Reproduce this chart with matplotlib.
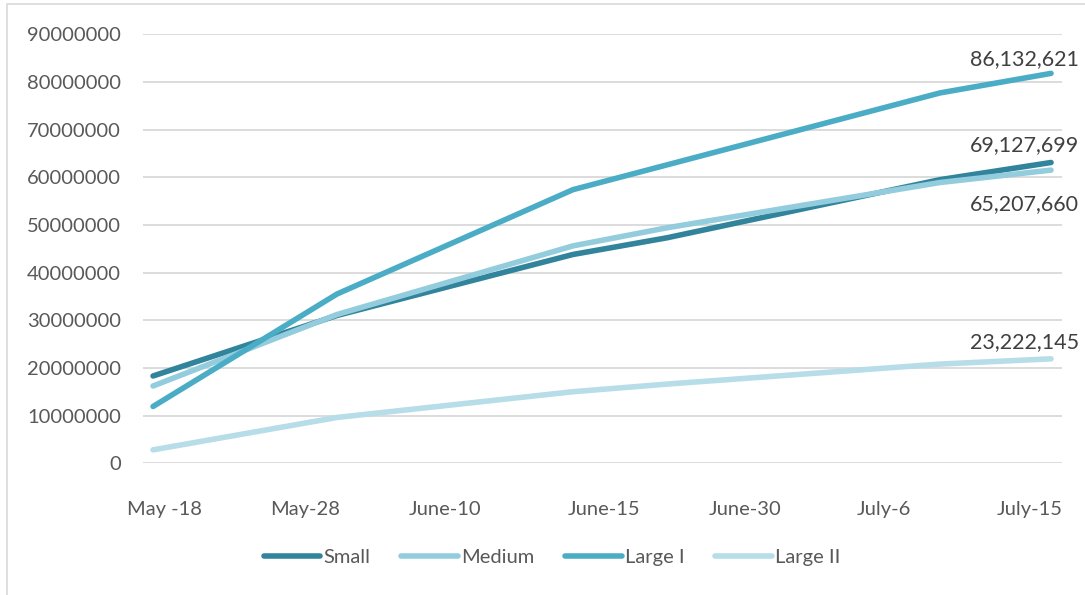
import matplotlib
matplotlib.use("Agg")
import matplotlib.pyplot as plt
from matplotlib.patches import Rectangle

# ---- data ----
categories = ["May -18", "May-28", "June-10", "June-15", "June-30", "July-6", "July-15"]
# category label positions along the (index-based) x axis
category_pos = [0.0, 0.971, 1.942, 3.045, 4.023, 4.987, 6.0]
# x positions (index units) of the recorded points
x_points = [-0.083, 1.193, 2.830, 3.482, 5.376, 6.146]

small = [18.3e6, 31.0e6, 43.8e6, 47.3e6, 59.5e6, 63.1e6]
medium = [16.2e6, 31.2e6, 45.6e6, 49.4e6, 58.9e6, 61.5e6]
large1 = [11.9e6, 35.5e6, 57.4e6, 62.6e6, 77.7e6, 81.8e6]
large2 = [2.8e6, 9.6e6, 15.0e6, 16.6e6, 20.8e6, 21.9e6]

series_names = ["Small", "Medium", "Large I", "Large II"]
end_labels = ["69,127,699", "65,207,660", "86,132,621", "23,222,145"]

colors = ["#31849B", "#93CDDD", "#4BACC6", "#B7DDE8"]

plt.rcParams['font.family'] = ['Lato', 'DejaVu Sans']

fig = plt.figure(figsize=(10.85, 5.95), dpi=100)
ax = fig.add_axes([143/1085, 1-463.2/595, (1062-143)/1085, (463.2-34.3)/595])

# chart border
fig.patches.append(Rectangle((7/1085, -0.05), 1.2, 1.05 - 4/595, transform=fig.transFigure,
                             fill=False, edgecolor="#D9D9D9", linewidth=1.2))

all_series = [small, medium, large1, large2]
lines = []
for vals, name, c in zip(all_series, series_names, colors):
    ln, = ax.plot(x_points, vals, color=c, linewidth=4.0, solid_capstyle="round",
                  solid_joinstyle="round", label=name)
    lines.append(ln)

# end labels
offsets = {0: (0, 5, "bottom"), 1: (0, -17, "top"), 2: (0, 3, "bottom"), 3: (0, 5, "bottom")}
for i, (vals, lab) in enumerate(zip(all_series, end_labels)):
    dx, dy, va = offsets[i]
    ax.annotate(lab, (x_points[-1], vals[-1]), xytext=(-19 + dx, dy), textcoords="offset points",
                ha="center", va=va, fontsize=15.5, color="#404040", annotation_clip=False)

ax.set_xlim(-0.1526, 6.222)
ax.set_ylim(0, 90e6)
ax.set_yticks([i * 10e6 for i in range(10)])
ax.set_yticklabels([str(int(i * 10e6)) for i in range(10)])
ax.set_xticks(category_pos)
ax.set_xticklabels(categories)

ax.grid(axis="y", color="#D9D9D9", linewidth=1.3)
ax.set_axisbelow(True)
for s in ax.spines.values():
    s.set_visible(False)
ax.tick_params(axis="both", length=0, colors="#595959", labelsize=14.5)
ax.tick_params(axis="x", pad=27)
ax.tick_params(axis="y", pad=16)

leg = fig.legend(handles=lines, loc="center", bbox_to_anchor=(552/1085, 1-557/595), ncol=4,
                 frameon=False, fontsize=14.5, handlelength=2.8, handletextpad=0.15,
                 columnspacing=1.55, labelcolor="#595959")

fig.savefig("out.png", dpi=100)
